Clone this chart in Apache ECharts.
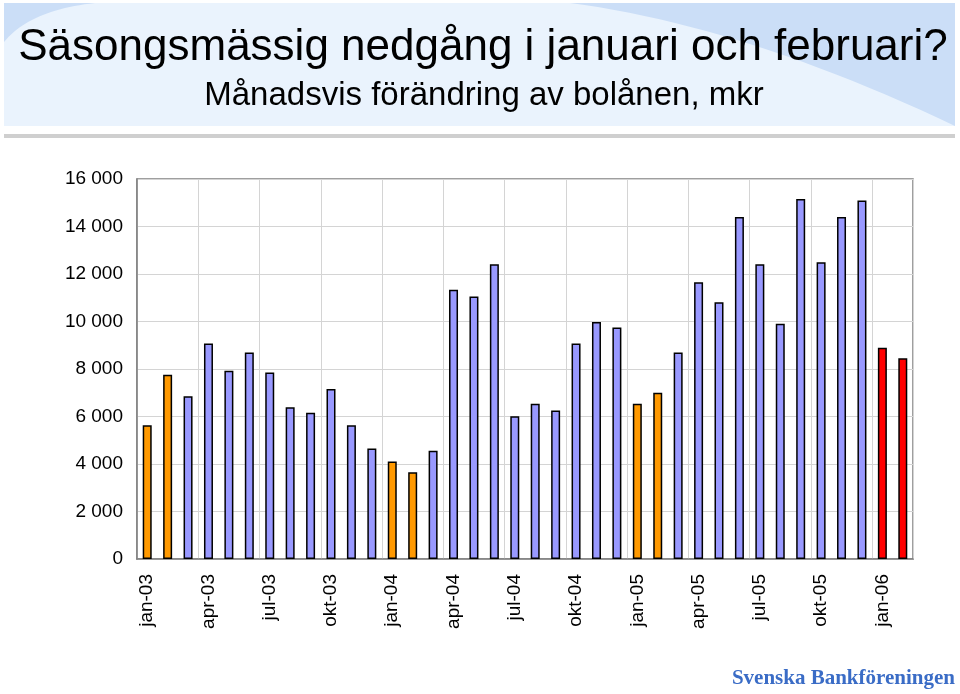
<!DOCTYPE html>
<html>
<head>
<meta charset="utf-8">
<script src="https://cdn.jsdelivr.net/npm/echarts@6/dist/echarts.min.js"></script>
<style>
  html, body { margin: 0; padding: 0; background: #fff; }
  #chart { width: 960px; height: 694px; }
</style>
</head>
<body>
<div id="chart"></div>
<script>
// månader jan-03 .. feb-06
const months = ["jan", "feb", "mar", "apr", "maj", "jun", "jul", "aug", "sep", "okt", "nov", "dec"];
const years = ["03", "04", "05", "06"];
const categories = [];
years.forEach((y) => months.forEach((m) => categories.push(m + "-" + y)));
categories.length = 38;

// månadsvis förändring av bolånen, mkr
const values = [
  5630, 7760, 6850, 9070, 7930, 8690, 7850, 6390, 6160, 7160, 5630, 4650,
  4110, 3650, 4560, 11340, 11050, 12410, 6010, 6540, 6250, 9070, 9980, 9750,
  6540, 7000, 8690, 11650, 10810, 14400, 12410, 9910, 15160, 12490, 14400, 15090,
  8900, 8450,
];

const yTicks = [0, 2000, 4000, 6000, 8000, 10000, 12000, 14000, 16000];

const BLUE = "#9999ff";
const ORANGE = "#ff9900";
const RED = "#ff0000";
const FONT = "Liberation Sans, Arial, sans-serif";

function barColor(label) {
  if (label.endsWith("-06")) return RED;
  if (label.startsWith("jan") || label.startsWith("feb")) return ORANGE;
  return BLUE;
}

function fmtThousands(v) {
  if (v === 0) return "0";
  return Math.round(v / 1000) + " 000";
}

// fyllt hörn i rubrikrutan: kvadratisk kurva p0 -> p2 (kontroll c), stängd via corner
function swoosh(p0, c, p2, corner) {
  const pts = [];
  for (let i = 0; i <= 24; i++) {
    const t = i / 24, u = 1 - t;
    pts.push([u * u * p0[0] + 2 * u * t * c[0] + t * t * p2[0], u * u * p0[1] + 2 * u * t * c[1] + t * t * p2[1]]);
  }
  pts.push(corner);
  return pts;
}

const chart = echarts.init(document.getElementById("chart"));

chart.setOption({
  backgroundColor: "#fff",
  animation: false,
  grid: {
    left: 137,
    right: 47,
    top: 179,
    bottom: 135,
    show: true,
    borderColor: "#808080",
    borderWidth: 1.5,
  },
  xAxis: {
    type: "category",
    data: categories,
    boundaryGap: true,
    axisLine: { lineStyle: { color: "#808080", width: 1.5 } },
    axisTick: { interval: 2, length: 5, lineStyle: { color: "#808080" } },
    splitLine: { show: true, interval: 2, lineStyle: { color: "#d4d4d4", width: 1 } },
    axisLabel: {
      interval: 2,
      rotate: 90,
      margin: 15,
      color: "#000",
      fontSize: 19,
      fontFamily: FONT,
    },
  },
  yAxis: {
    type: "value",
    min: yTicks[0],
    max: yTicks[yTicks.length - 1],
    interval: 2000,
    axisLine: { show: true, lineStyle: { color: "#808080", width: 1.5 } },
    axisTick: { show: false },
    splitLine: { lineStyle: { color: "#d4d4d4", width: 1 } },
    axisLabel: {
      margin: 14,
      color: "#000",
      fontSize: 19,
      fontFamily: FONT,
      formatter: fmtThousands,
    },
  },
  series: [
    {
      type: "bar",
      barWidth: 9,
      data: values.map((v, i) => ({
        value: v,
        itemStyle: { color: barColor(categories[i]) },
      })),
      itemStyle: { borderColor: "#000", borderWidth: 1.5 },
      z: 3,
    },
  ],
  graphic: [
    {
      type: "rect",
      shape: { x: 4, y: 3, width: 951, height: 123 },
      style: { fill: "#eaf3fd" },
      z: -10,
    },
    {
      type: "polygon",
      shape: { points: swoosh([4, 42], [30, 10], [95, 3], [4, 3]) },
      style: { fill: "#cbdef7" },
      z: -9,
    },
    {
      type: "polygon",
      shape: { points: swoosh([570, 3], [745, 26], [955, 126], [955, 3]) },
      style: { fill: "#cbdef7" },
      z: -9,
    },
    {
      type: "rect",
      shape: { x: 4, y: 134, width: 951, height: 4 },
      style: { fill: "#cfcfcf" },
      z: -10,
    },
    {
      type: "text",
      x: 483,
      y: 48,
      style: {
        text: "Säsongsmässig nedgång i januari och februari?",
        fill: "#000",
        font: "44px " + FONT,
        textAlign: "center",
        textVerticalAlign: "middle",
      },
    },
    {
      type: "text",
      x: 484,
      y: 96,
      style: {
        text: "Månadsvis förändring av bolånen, mkr",
        fill: "#000",
        font: "33px " + FONT,
        textAlign: "center",
        textVerticalAlign: "middle",
      },
    },
    {
      type: "text",
      x: 955,
      y: 679,
      style: {
        text: "Svenska Bankföreningen",
        fill: "#3a6cc6",
        font: "bold 21px Liberation Serif, Times New Roman, serif",
        textAlign: "right",
        textVerticalAlign: "middle",
      },
    },
  ],
});
</script>
</body>
</html>
